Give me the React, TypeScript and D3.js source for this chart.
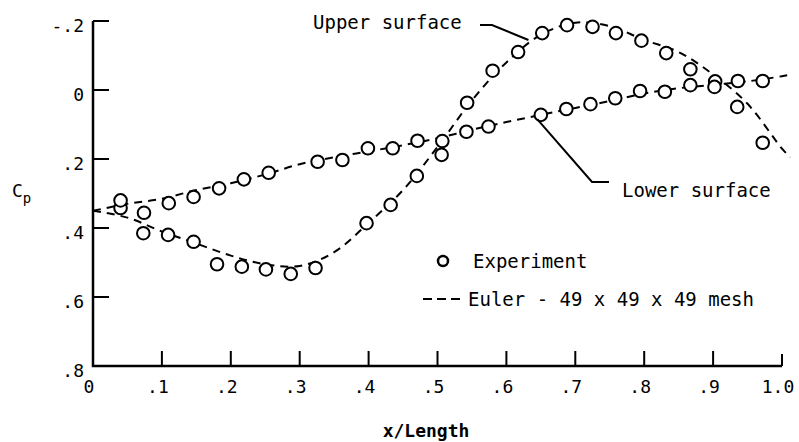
import React, { useRef, useEffect } from "react";
import * as d3 from "d3";

// tick values and labels
const xTicks = [0, 0.1, 0.2, 0.3, 0.4, 0.5, 0.6, 0.7, 0.8, 0.9, 1.0];
const xTickLabels = ["0", ".1", ".2", ".3", ".4", ".5", ".6", ".7", ".8", ".9", "1.0"];
const yTicks = [-0.2, 0, 0.2, 0.4, 0.6, 0.8];
const yTickLabels = ["-.2", "0", ".2", ".4", ".6", ".8"];

// experiment, upper surface
const upperX = [0.04, 0.074, 0.073, 0.109, 0.146, 0.18, 0.216, 0.251, 0.287, 0.323, 0.397, 0.432, 0.47, 0.506, 0.543, 0.58, 0.617, 0.652, 0.688, 0.725, 0.759, 0.796, 0.832, 0.867, 0.903, 0.935, 0.972];
const upperCp = [0.342, 0.356, 0.415, 0.42, 0.44, 0.505, 0.512, 0.52, 0.533, 0.516, 0.386, 0.333, 0.249, 0.188, 0.037, -0.056, -0.11, -0.165, -0.188, -0.183, -0.165, -0.143, -0.107, -0.06, -0.025, 0.049, 0.153];

// experiment, lower surface
const lowerX = [0.04, 0.11, 0.146, 0.183, 0.219, 0.255, 0.326, 0.362, 0.399, 0.435, 0.471, 0.507, 0.542, 0.574, 0.65, 0.687, 0.722, 0.758, 0.794, 0.83, 0.867, 0.902, 0.936, 0.972];
const lowerCp = [0.32, 0.328, 0.31, 0.285, 0.259, 0.24, 0.208, 0.203, 0.169, 0.169, 0.147, 0.148, 0.121, 0.106, 0.072, 0.055, 0.041, 0.024, 0.003, 0.005, -0.014, -0.009, -0.026, -0.026];

// Euler 49 x 49 x 49
const eulerX = [0, 0.05, 0.1, 0.15, 0.2, 0.25, 0.3, 0.35, 0.4, 0.45, 0.5, 0.55, 0.6, 0.65, 0.7, 0.75, 0.8, 0.85, 0.9, 0.95, 1.0, 1.012];
const eulerUpperCp = [0.35, 0.37, 0.41, 0.445, 0.48, 0.505, 0.51, 0.47, 0.385, 0.29, 0.165, 0.03, -0.08, -0.16, -0.195, -0.185, -0.145, -0.11, -0.045, 0.04, 0.17, 0.195];
const eulerLowerCp = [0.35, 0.33, 0.315, 0.29, 0.27, 0.245, 0.215, 0.195, 0.178, 0.16, 0.14, 0.115, 0.093, 0.072, 0.052, 0.032, 0.01, -0.005, -0.015, -0.025, -0.04, -0.045];

const W = 799;
const H = 442;
const FONT = "'DejaVu Sans Mono', monospace";

export default function App() {
  const svgRef = useRef<SVGSVGElement>(null);

  useEffect(() => {
    const svg = d3.select(svgRef.current);
    svg.selectAll("*").remove();

    const x = d3.scaleLinear().domain([0, 1]).range([93, 782]);
    const y = d3.scaleLinear().domain([-0.2, 0.8]).range([21, 366]);

    const g = svg.append("g");

    // axes
    g.append("path")
      .attr("d", `M${x(0)},${y(-0.2)}V${y(0.8)}H${x(1)}`)
      .attr("fill", "none")
      .attr("stroke", "#000")
      .attr("stroke-width", 2.5);

    g.selectAll(".ytick")
      .data(yTicks.slice(0, -1))
      .join("line")
      .attr("x1", x(0))
      .attr("x2", x(0) + 16)
      .attr("y1", (d) => y(d))
      .attr("y2", (d) => y(d))
      .attr("stroke", "#000")
      .attr("stroke-width", 2);

    g.selectAll(".xtick")
      .data(xTicks.slice(1))
      .join("line")
      .attr("x1", (d) => x(d))
      .attr("x2", (d) => x(d))
      .attr("y1", y(0.8))
      .attr("y2", (d) => y(0.8) - (d === 1 ? 12 : 15))
      .attr("stroke", "#000")
      .attr("stroke-width", 2);

    g.selectAll(".ylab")
      .data(yTicks)
      .join("text")
      .attr("x", 84)
      .attr("y", (d) => y(d) + 11)
      .attr("text-anchor", "end")
      .attr("font-family", FONT)
      .attr("font-size", 18)
      .text((d, i) => yTickLabels[i]);

    g.selectAll(".xlab")
      .data(xTicks)
      .join("text")
      .attr("x", (d) => x(d) - 4)
      .attr("y", 393)
      .attr("text-anchor", "middle")
      .attr("font-family", FONT)
      .attr("font-size", 18)
      .text((d, i) => xTickLabels[i]);

    g.append("text")
      .attr("x", 426)
      .attr("y", 437)
      .attr("text-anchor", "middle")
      .attr("font-family", FONT)
      .attr("font-weight", "bold")
      .attr("font-size", 18)
      .text("x/Length");

    const cp = g.append("text")
      .attr("x", 12)
      .attr("y", 197)
      .attr("font-family", FONT)
      .attr("font-size", 18);
    cp.append("tspan").text("C");
    cp.append("tspan").attr("dy", 6).attr("font-size", 14).text("p");

    // Euler curves
    const line = d3.line<number>()
      .x((d, i) => x(eulerX[i]))
      .y((d) => y(d))
      .curve(d3.curveCatmullRom);

    [eulerUpperCp, eulerLowerCp].forEach((s) => {
      g.append("path")
        .datum(s)
        .attr("d", line)
        .attr("fill", "none")
        .attr("stroke", "#000")
        .attr("stroke-width", 2)
        .attr("stroke-dasharray", "8,6");
    });

    // experiment symbols
    const pts = [
      ...upperX.map((v, i) => [v, upperCp[i]]),
      ...lowerX.map((v, i) => [v, lowerCp[i]]),
    ];
    g.selectAll(".pt")
      .data(pts)
      .join("circle")
      .attr("cx", (d) => x(d[0]))
      .attr("cy", (d) => y(d[1]))
      .attr("r", 6.3)
      .attr("fill", "#fff")
      .attr("stroke", "#000")
      .attr("stroke-width", 2);

    // labels with leader lines
    g.append("text")
      .attr("x", 313)
      .attr("y", 29)
      .attr("font-family", FONT)
      .attr("font-size", 19)
      .text("Upper surface");
    g.append("path")
      .attr("d", `M480,25H492L${x(0.632)},${y(-0.145)}`)
      .attr("fill", "none")
      .attr("stroke", "#000")
      .attr("stroke-width", 2);

    g.append("text")
      .attr("x", 622)
      .attr("y", 197)
      .attr("font-family", FONT)
      .attr("font-size", 19)
      .text("Lower surface");
    g.append("path")
      .attr("d", `M${x(0.645)},${y(0.085)}L592,182H609`)
      .attr("fill", "none")
      .attr("stroke", "#000")
      .attr("stroke-width", 2);

    // legend
    g.append("circle")
      .attr("cx", 443)
      .attr("cy", 261)
      .attr("r", 5)
      .attr("fill", "#fff")
      .attr("stroke", "#000")
      .attr("stroke-width", 2.5);
    g.append("text")
      .attr("x", 473)
      .attr("y", 268)
      .attr("font-family", FONT)
      .attr("font-size", 19)
      .text("Experiment");
    g.append("line")
      .attr("x1", 423)
      .attr("x2", 465)
      .attr("y1", 299)
      .attr("y2", 299)
      .attr("stroke", "#000")
      .attr("stroke-width", 2)
      .attr("stroke-dasharray", "9,5");
    g.append("text")
      .attr("x", 468)
      .attr("y", 306)
      .attr("font-family", FONT)
      .attr("font-size", 19)
      .text("Euler - 49 x 49 x 49 mesh");
  }, []);

  return (
    <svg
      ref={svgRef}
      width={W}
      height={H}
      style={{ position: "absolute", left: 0, top: 0, background: "#fff" }}
    />
  );
}
